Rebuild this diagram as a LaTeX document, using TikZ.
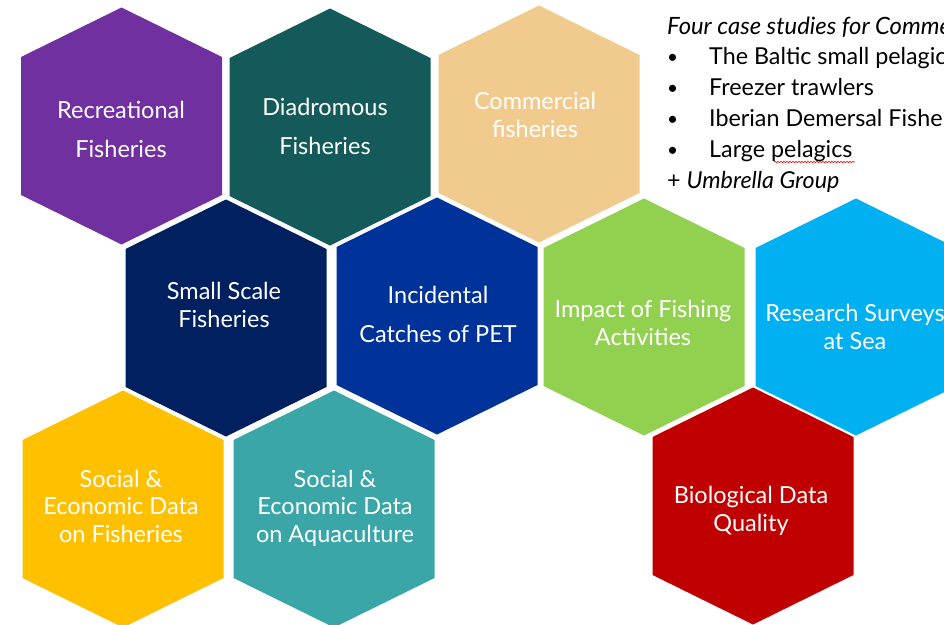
\documentclass[tikz,border=0pt]{standalone}
\usepackage{fontspec}
\setmainfont{Lato}
\usetikzlibrary{decorations.pathmorphing}

\definecolor{recpurple}{HTML}{7030A0}
\definecolor{diateal}{HTML}{155A5A}
\definecolor{comtan}{HTML}{F1CA8E}
\definecolor{ssfnavy}{HTML}{002060}
\definecolor{petblue}{HTML}{003399}
\definecolor{impgreen}{HTML}{92D050}
\definecolor{rsscyan}{HTML}{00B0F0}
\definecolor{sefyellow}{HTML}{FFC000}
\definecolor{seateal}{HTML}{3AA6A8}
\definecolor{biored}{HTML}{C00000}

\tikzset{
    hexcell/.style = {fill = #1},
    hexlabel/.style = {%
        text = white,
        align = center,
        inner sep = 0pt,
        font = \fontsize{23.5}{27.5}\selectfont
    },
    sidetext/.style = {%
        anchor = base west,
        inner sep = 0pt,
        font = \fontsize{23.3}{27}\selectfont
    },
    sidebullet/.style = {%
        anchor = base west,
        inner sep = 0pt,
        font = \fontsize{19}{22}\selectfont
    }
}

% One hexagon round a centre: half width 100.5, tip 118.5, half side 69.
\newcommand{\hexagonat}[2]{%
    \fill[hexcell = #2, shift = {(#1)}]
        (0, -118.5) -- (100.5, -69) -- (100.5, 69) -- (0, 118.5)
        -- (-100.5, 69) -- (-100.5, -69) -- cycle;
}

\begin{document}
\begin{tikzpicture}[x = 1pt, y = -1pt]

        \path[use as bounding box, clip] (0, 0) rectangle (944, 624);

        % Centres of the hexagons, top row.
        \coordinate (rec) at (121.5, 126);
        \coordinate (dia) at (330, 127);
        \coordinate (com) at (539, 124);

        % Middle row.
        \coordinate (ssf) at (226, 318);
        \coordinate (pet) at (437, 316);
        \coordinate (imp) at (644, 317);
        \coordinate (rss) at (856, 317);

        % Bottom row.
        \coordinate (sef) at (123, 509);
        \coordinate (sea) at (334, 509);
        \coordinate (bio) at (753, 506);

        % The hexagons.
        \hexagonat{rec}{recpurple}
        \hexagonat{dia}{diateal}
        \hexagonat{com}{comtan}
        \hexagonat{ssf}{ssfnavy}
        \hexagonat{pet}{petblue}
        \hexagonat{imp}{impgreen}
        \hexagonat{rss}{rsscyan}
        \hexagonat{sef}{sefyellow}
        \hexagonat{sea}{seateal}
        \hexagonat{bio}{biored}

        % Labels, placed by eye.
        \node[hexlabel, font = \fontsize{23.5}{39}\selectfont] (reclabel)
            at (121, 129) {Recreational\\Fisheries};
        \node[hexlabel, font = \fontsize{23.5}{39}\selectfont] (dialabel)
            at (325, 126) {Diadromous\\Fisheries};
        \node[hexlabel] (comlabel) at (535, 115) {Commercial\\fisheries};
        \node[hexlabel] (ssflabel) at (224, 305) {Small Scale\\Fisheries};
        \node[hexlabel, font = \fontsize{23.5}{39}\selectfont] (petlabel)
            at (438, 314) {Incidental\\Catches of PET};
        \node[hexlabel] (implabel) at (643, 323) {Impact of Fishing\\Activities};
        \node[hexlabel] (rsslabel) at (855, 327) {Research Surveys\\at Sea};
        \node[hexlabel] (seflabel) at (121, 506) {Social \&\\Economic Data\\on Fisheries};
        \node[hexlabel] (sealabel) at (335, 508) {Social \&\\Economic Data\\on Aquaculture};
        \node[hexlabel] (biolabel) at (751, 511) {Biological Data\\Quality};

        % The note on the right.
        \node[sidetext, font = \fontsize{23.8}{27}\selectfont] (note) at (667, 34)
            {\itshape Four case studies for Commercial fisheries};
        \node[sidebullet] (bltone) at (667, 63) {\textbullet};
        \node[sidetext] (itmone) at (709, 64) {The Baltic small pelagics};
        \node[sidebullet] (blttwo) at (667, 94) {\textbullet};
        \node[sidetext] (itmtwo) at (709, 95) {Freezer trawlers};
        \node[sidebullet] (bltthree) at (667, 125) {\textbullet};
        \node[sidetext] (itmthree) at (709, 126) {Iberian Demersal Fisheries};
        \node[sidebullet] (bltfour) at (667, 156) {\textbullet};
        \node[sidetext] (itmfour) at (709, 157) {Large pelagics};
        \node[sidetext] (umbrella) at (667, 188) {+ \itshape Umbrella Group};

        % Spelling mark under pelagics.
        \coordinate (wavya) at (774, 162);
        \coordinate (wavyb) at (855, 162);
        \draw[%
            red,
            line width = 0.6pt,
            decorate,
            decoration = {snake, amplitude = 0.8pt, segment length = 3pt}
        ] (wavya) -- (wavyb);
    \end{tikzpicture}
\end{document}
